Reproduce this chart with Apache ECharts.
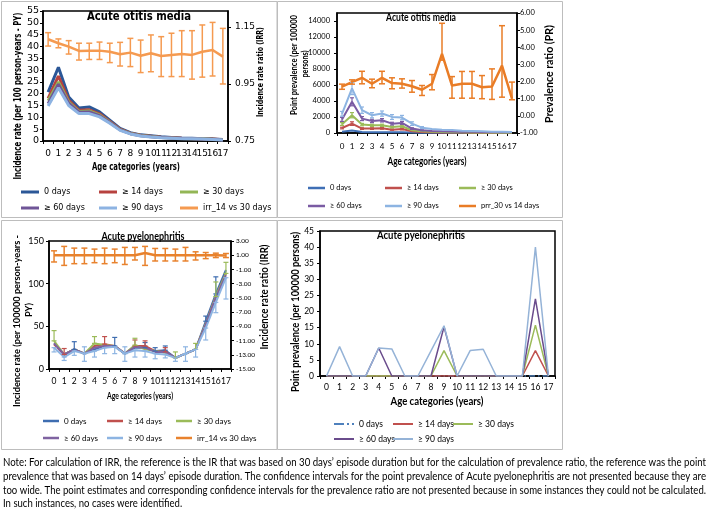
<!DOCTYPE html>
<html><head><meta charset="utf-8">
<script src="https://cdn.jsdelivr.net/npm/echarts@6/dist/echarts.min.js"></script>
<style>html,body{margin:0;padding:0;background:#fff}#c{width:709px;height:510px}</style>
</head><body><div id="c"></div>
<script>
const ages = ['0','1','2','3','4','5','6','7','8','9','10','11','12','13','14','15','16','17'];

// ---- Top-left: Acute otitis media, incidence rate (per 100 PY) ----
const tlBlue   = [20.7, 31.2, 18.6, 14.0, 14.4, 12.3, 8.8, 5.3, 3.5, 2.6, 2.2, 1.8, 1.5, 1.3, 1.2, 1.0, 0.9, 0.6];
const tlRed    = [18.0, 27.5, 17.2, 13.0, 13.2, 11.5, 8.3, 5.0, 3.3, 2.4, 2.0, 1.6, 1.4, 1.2, 1.1, 0.9, 0.8, 0.5];
const tlGreen  = [17.0, 25.0, 16.5, 12.5, 12.7, 11.0, 8.0, 4.8, 3.2, 2.3, 1.9, 1.5, 1.3, 1.1, 1.0, 0.9, 0.7, 0.5];
const tlPurple = [15.8, 24.0, 16.0, 12.2, 12.3, 10.7, 7.8, 4.7, 3.1, 2.2, 1.8, 1.5, 1.3, 1.1, 1.0, 0.8, 0.7, 0.4];
const tlLight  = [14.8, 22.5, 15.0, 11.6, 11.6, 10.2, 7.5, 4.5, 3.0, 2.1, 1.7, 1.4, 1.2, 1.0, 0.9, 0.8, 0.6, 0.4];
const tlIrr    = [1.107, 1.093, 1.081, 1.066, 1.067, 1.067, 1.063, 1.054, 1.060, 1.049, 1.058, 1.048, 1.052, 1.055, 1.052, 1.063, 1.069, 1.046];
const tlIrrLo  = [1.083, 1.077, 1.055, 1.034, 1.036, 1.036, 1.025, 1.013, 1.011, 0.990, 0.993, 0.976, 0.976, 0.976, 0.967, 0.974, 0.978, 0.950];
const tlIrrHi  = [1.130, 1.108, 1.102, 1.093, 1.093, 1.097, 1.093, 1.096, 1.110, 1.104, 1.122, 1.116, 1.128, 1.137, 1.137, 1.157, 1.166, 1.145];

// ---- Top-right: Acute otitis media, point prevalence (per 100000) ----
const trBlue   = [170, 300, 120, 90, 100, 80, 80, 50, 40, 30, 30, 25, 20, 20, 15, 15, 15, 10];
const trRed    = [620, 1170, 550, 550, 590, 420, 500, 210, 120, 90, 70, 60, 50, 40, 35, 30, 30, 25];
const trGreen  = [1100, 2220, 1050, 960, 960, 750, 840, 340, 210, 150, 120, 100, 80, 70, 60, 50, 45, 40];
const trPurple = [1700, 3900, 1800, 1510, 1590, 1170, 1260, 550, 340, 250, 220, 200, 170, 150, 130, 110, 100, 80];
const trLight  = [2400, 5580, 2850, 2220, 2430, 2010, 1930, 1170, 670, 500, 420, 380, 290, 250, 210, 170, 170, 130];
const trLightLo  = [2100, 4800, 2450, 1900, 2100, 1700, 1650, 950, 550, null, null, null, null, null, null, null, null, null];
const trLightHi  = [2700, 6300, 3250, 2550, 2750, 2300, 2200, 1400, 800, null, null, null, null, null, null, null, null, null];
const trPurpleLo = [1450, 3400, 1550, 1300, 1380, 1000, 1080, 450, 280, null, null, null, null, null, null, null, null, null];
const trPurpleHi = [1950, 4400, 2050, 1720, 1800, 1340, 1440, 650, 400, null, null, null, null, null, null, null, null, null];
const trGreenLo  = [950, 1900, 900, 820, 820, 630, 710, null, null, null, null, null, null, null, null, null, null, null];
const trGreenHi  = [1300, 2550, 1200, 1100, 1100, 870, 970, null, null, null, null, null, null, null, null, null, null, null];
const trRedLo    = [520, 950, 450, 450, 480, 340, 400, null, null, null, null, null, null, null, null, null, null, null];
const trRedHi    = [720, 1400, 650, 650, 700, 500, 600, null, null, null, null, null, null, null, null, null, null, null];
const trPrr    = [1.70, 1.97, 2.22, 1.87, 2.22, 1.91, 1.87, 1.73, 1.52, 1.87, 3.61, 1.77, 1.87, 1.87, 1.67, 1.71, 2.93, 1.00];
const trPrrLo  = [1.55, 1.85, 1.87, 1.64, 1.87, 1.58, 1.62, 1.38, 1.19, 1.52, 3.25, 1.03, 1.03, 1.03, 1.00, 0.96, 1.09, 0.94];
const trPrrHi  = [1.85, 2.10, 2.60, 2.14, 2.60, 2.22, 2.16, 2.06, 1.77, 2.41, 5.40, 2.29, 2.59, 2.59, 2.35, 2.74, 5.26, 1.97];

// ---- Bottom-left: Acute pyelonephritis, incidence rate (per 100000 PY) ----
const blBlue   = [30, 17, 23, 18, 23, 27, 27, 18, 25, 25, 21, 22, 13, 18, 23, 56, 88, 116];
const blRed    = [29, 17, 23, 18, 27, 29, 27, 18, 27, 27, 21, 20, 13, 18, 23, 53, 85, 112];
const blGreen  = [33, 17, 23, 18, 30, 28, 27, 18, 28, 23, 21, 19, 13, 18, 23, 53, 85, 112];
const blPurple = [30, 17, 23, 18, 25, 27, 27, 18, 26, 25, 20, 20, 13, 18, 23, 52, 84, 110];
const blLight  = [25, 14, 21, 18, 21, 25, 26, 18, 22, 21, 18, 17, 13, 18, 23, 48, 78, 107];
const blBlueHi  = [null, null, 32, null, null, null, 37, null, null, 31, 25, 27, null, null, null, 62, 108, null];
const blRedHi   = [null, 24, null, null, null, 38, null, null, 34, 33, null, 25, null, null, null, null, null, null];
const blGreenHi = [45, null, null, null, 38, null, null, null, 36, null, null, null, 20, null, 30, null, 102, 125];
const blLightLo = [20, 10, 16, 9, 14, 18, 18, 9, 14, 14, 12, 13, 9, 9, 14, 34, 66, 82];
const blLightHi = [null, null, null, 26, null, null, null, 26, null, null, null, null, null, 26, null, null, null, null];
const blIrr    = [1.0, 1.0, 1.0, 1.0, 1.0, 1.0, 1.0, 1.0, 1.0, 1.3, 1.0, 1.0, 1.0, 1.0, 1.0, 1.0, 1.0, 0.95];
const blIrrLo  = [0.05, -0.43, -0.19, -0.19, -0.05, -0.19, -0.05, -0.3, 0.33, -0.43, 0.19, 0.19, 0.19, 0.19, 0.33, 0.52, 0.67, 0.67];
const blIrrHi  = [1.62, 2.24, 2.0, 2.0, 1.86, 2.0, 1.86, 2.1, 2.1, 2.24, 1.95, 1.95, 1.86, 2.1, 1.48, 1.38, 1.29, 1.24];

// ---- Bottom-right: Acute pyelonephritis, point prevalence (per 100000) ----
const brBlue   = [0, 0, 0, 0, 0, 0, 0, 0, 0, 0, 0, 0, 0, 0, 0, 0, 0, 0];
const brRed    = [0, 0, 0, 0, 0, 0, 0, 0, 0, 0, 0, 0, 0, 0, 0, 0, 7.9, 0];
const brGreen  = [0, 0, 0, 0, 0, 0, 0, 0, 0, 7.9, 0, 0, 0, 0, 0, 0, 15.8, 0];
const brPurple = [0, 0, 0, 0, 8.7, 0, 0, 0, 0, 15.3, 0, 0, 0, 0, 0, 0, 23.9, 0];
const brLight  = [0, 9.1, 0, 0, 8.7, 8.4, 0, 0, 7.8, 15.6, 0, 7.9, 8.3, 0, 0, 0, 40, 0];

const noteLines = [
  'Note: For calculation of IRR, the reference is the IR that was based on 30 days\u2019 episode duration but for the calculation of prevalence ratio, the reference was the point',
  'prevalence that was based on 14 days\u2019 episode duration. The confidence intervals for the point prevalence of Acute pyelonephritis are not presented because they are',
  'too wide. The point estimates and corresponding confidence intervals for the prevalence ratio are not presented because in some instances they could not be calculated.',
  'In such instances, no cases were identified.'
];

const DV = 'DejaVu Sans';
const CB = 'Lato';

const mctx = document.createElement('canvas').getContext('2d');
function measure(text, f) {
  mctx.font = `${f.w || 'normal'} ${f.s}px "${f.f}"`;
  return mctx.measureText(text).width;
}
function gtext(text, x, y, f, len, o = {}) {
  const s = len ? len / measure(text, f) : (o.sx || 1);
  return { type: 'text', x, y, rotation: o.rot ? Math.PI / 2 : 0, scaleX: s, scaleY: o.sy || 1, z: 100,
    style: { text, fontSize: f.s, fontFamily: f.f, fontWeight: f.w || 'normal', fill: '#000',
      align: o.align || 'center', verticalAlign: 'middle' } };
}

function xa(gi, fam, size, margin) {
  return { type: 'category', gridIndex: gi, data: ages, boundaryGap: true,
    axisLine: { onZero: false, lineStyle: { color: '#000', width: 1.5 } },
    axisTick: { show: true, length: 3, lineStyle: { color: '#000' } },
    axisLabel: { interval: 0, fontFamily: fam, fontSize: size, color: '#000', margin },
    splitLine: { show: false } };
}
function ya(gi, pos, min, max, interval, fam, size, margin, dec, hideMax) {
  return { type: 'value', gridIndex: gi, position: pos, min, max, interval,
    axisLine: { show: true, lineStyle: { color: '#000', width: 1.5 } },
    axisTick: { show: true, length: 3, lineStyle: { color: '#000' } },
    axisLabel: { fontFamily: fam, fontSize: size, color: '#000', margin, showMaxLabel: !hideMax,
      formatter: v => dec ? v.toFixed(dec) : String(v) },
    splitLine: { show: false } };
}
function ln(name, xi, yi, data, color, w, extra) {
  return Object.assign({ type: 'line', name, xAxisIndex: xi, yAxisIndex: yi, data, symbol: 'none',
    lineStyle: { color, width: w }, itemStyle: { color }, z: 3, animation: false }, extra || {});
}
function eb(xi, yi, lo, hi, color, cap, lw) {
  const data = [];
  for (let i = 0; i < ages.length; i++) if (lo[i] != null && hi[i] != null) data.push([i, lo[i], hi[i]]);
  return { type: 'custom', xAxisIndex: xi, yAxisIndex: yi, silent: true, z: 4, data,
    encode: { x: 0, y: [1, 2] },
    renderItem: (p, api) => {
      const a = api.coord([api.value(0), api.value(1)]);
      const b = api.coord([api.value(0), api.value(2)]);
      const st = { stroke: color, lineWidth: lw };
      return { type: 'group', children: [
        { type: 'line', shape: { x1: a[0], y1: a[1], x2: b[0], y2: b[1] }, style: st },
        { type: 'line', shape: { x1: a[0] - cap, y1: a[1], x2: a[0] + cap, y2: a[1] }, style: st },
        { type: 'line', shape: { x1: b[0] - cap, y1: b[1], x2: b[0] + cap, y2: b[1] }, style: st }
      ] };
    } };
}
function lg(names, left, top, gap, fam, size, iw, ih) {
  return { show: true, orient: 'vertical', left, top, itemGap: gap, itemWidth: iw, itemHeight: ih, padding: 0,
    icon: 'rect', selectedMode: false, data: names, formatter: n => n.split('|')[1],
    textStyle: { fontFamily: fam, fontSize: size, color: '#000', lineHeight: 10 } };
}

const C = {
  tl: { b: '#2B5797', r: '#B7423F', g: '#93B656', p: '#6F5597', l: '#8DB3E2', o: '#F59A50' },
  tr: { b: '#3F6FB5', r: '#C0504D', g: '#9BBB59', p: '#7A5BA3', l: '#8DB4E2', o: '#E97C26' },
  bl: { b: '#3E6DB0', r: '#C0504D', g: '#9BBB59', p: '#7F63A1', l: '#8DB4E2', o: '#E8822D' },
  br: { b: '#4F81BD', r: '#C0504D', g: '#9BBB59', p: '#6A4C8C', l: '#95B3D7' }
};

const series = [
  // top-left
  ln('tl|0 days', 0, 0, tlBlue, C.tl.b, 3),
  ln('tl|\u2265 14 days', 0, 0, tlRed, C.tl.r, 3),
  ln('tl|\u2265 30 days', 0, 0, tlGreen, C.tl.g, 3),
  ln('tl|\u2265 60 days', 0, 0, tlPurple, C.tl.p, 3),
  ln('tl|\u2265 90 days', 0, 0, tlLight, C.tl.l, 3),
  ln('tl|irr_14 vs 30 days', 0, 1, tlIrr, C.tl.o, 2.5),
  eb(0, 1, tlIrrLo, tlIrrHi, C.tl.o, 3, 1.5),
  // top-right
  ln('tr|0 days', 1, 2, trBlue, C.tr.b, 2),
  ln('tr|\u2265 14 days', 1, 2, trRed, C.tr.r, 2),
  ln('tr|\u2265 30 days', 1, 2, trGreen, C.tr.g, 2),
  ln('tr|\u2265 60 days', 1, 2, trPurple, C.tr.p, 2),
  ln('tr|\u2265 90 days', 1, 2, trLight, C.tr.l, 2),
  eb(1, 2, trRedLo, trRedHi, C.tr.r, 2, 1.2),
  eb(1, 2, trGreenLo, trGreenHi, C.tr.g, 2, 1.2),
  eb(1, 2, trPurpleLo, trPurpleHi, C.tr.p, 2, 1.2),
  eb(1, 2, trLightLo, trLightHi, C.tr.l, 2, 1.2),
  ln('tr|prr_30 vs 14 days', 1, 3, trPrr, C.tr.o, 2.5),
  eb(1, 3, trPrrLo, trPrrHi, C.tr.o, 3, 1.5),
  // bottom-left
  ln('bl|0 days', 2, 4, blBlue, C.bl.b, 2),
  ln('bl|\u2265 14 days', 2, 4, blRed, C.bl.r, 2),
  ln('bl|\u2265 30 days', 2, 4, blGreen, C.bl.g, 2),
  ln('bl|\u2265 60 days', 2, 4, blPurple, C.bl.p, 2),
  ln('bl|\u2265 90 days', 2, 4, blLight, C.bl.l, 2),
  eb(2, 4, blBlue, blBlueHi, C.bl.b, 2.5, 1.2),
  eb(2, 4, blRed, blRedHi, C.bl.r, 2.5, 1.2),
  eb(2, 4, blGreen, blGreenHi, C.bl.g, 2.5, 1.2),
  eb(2, 4, blLightLo, blLight, C.bl.l, 2.5, 1.2),
  eb(2, 4, blLight, blLightHi, C.bl.l, 2.5, 1.2),
  ln('bl|irr_14 vs 30 days', 2, 5, blIrr, C.bl.o, 2.5),
  eb(2, 5, blIrrLo, blIrrHi, C.bl.o, 3, 1.5),
  // bottom-right
  ln('br|0 days', 3, 6, brBlue, C.br.b, 1.5, { lineStyle: { color: C.br.b, width: 1.5, type: [6, 3, 1.5, 3] } }),
  ln('br|\u2265 14 days', 3, 6, brRed, C.br.r, 1.5),
  ln('br|\u2265 30 days', 3, 6, brGreen, C.br.g, 1.5),
  ln('br|\u2265 60 days', 3, 6, brPurple, C.br.p, 1.5),
  ln('br|\u2265 90 days', 3, 6, brLight, C.br.l, 1.5)
];

const fDVb = (s) => ({ f: DV, s, w: 'bold' });
const fCBb = (s) => ({ f: CB, s, w: 'bold' });
const noteF = { f: CB, s: 11.5 };
const noteScale = 703 / measure(noteLines[2], noteF);

const graphics = [
  { type: 'rect', shape: { x: 1.5, y: 1.5, width: 275.5, height: 216 }, style: { fill: null, stroke: '#bdbdbd', lineWidth: 1 }, z: 1 },
  { type: 'rect', shape: { x: 277.5, y: 1.5, width: 285, height: 216 }, style: { fill: null, stroke: '#bdbdbd', lineWidth: 1 }, z: 1 },
  { type: 'rect', shape: { x: 1.5, y: 220.5, width: 275.5, height: 229 }, style: { fill: null, stroke: '#bdbdbd', lineWidth: 1 }, z: 1 },
  { type: 'rect', shape: { x: 277.5, y: 220.5, width: 285, height: 229 }, style: { fill: null, stroke: '#bdbdbd', lineWidth: 1 }, z: 1 },
  // top-left texts
  gtext('Acute otitis media', 139, 17, fDVb(13), 104),
  gtext('Incidence rate (per 100 person-years - PY)', 18, 96, fDVb(10), 167, { rot: true }),
  gtext('Incidence rate ratio (IRR)', 260.5, 72, fDVb(9.5), 90, { rot: true }),
  gtext('Age categories (years)', 136, 167, fDVb(10), 88),
  // top-right texts
  gtext('Acute otitis media', 421, 17, fCBb(11), 70),
  gtext('Point prevalence (per 100000', 294, 65, fCBb(10), 100, { rot: true }),
  gtext('persons)', 305, 64, fCBb(10), 27, { rot: true }),
  gtext('Prevalence ratio (PR)', 549, 74, fCBb(11), 98, { rot: true }),
  gtext('Age categories (years)', 427, 162, fCBb(10.5), 79),
  // bottom-left texts
  gtext('Acute pyelonephritis', 143, 236, fCBb(11), 83),
  gtext('Incidence rate (per 100000 person-years -', 17, 321, fCBb(10), 172, { rot: true }),
  gtext('PY)', 28.5, 310, fCBb(10), 14, { rot: true }),
  gtext('Incidence rate ratio (IRR)', 264, 297, fCBb(11), 105, { rot: true }),
  gtext('Age categories (years)', 140, 396, fCBb(10), 66),
  // bottom-right texts
  gtext('Acute pyelonephritis', 421, 235, fCBb(11), 88),
  gtext('Point prevalence (per 100000 persons)', 295, 312, fCBb(11), 160, { rot: true }),
  gtext('Age categories (years)', 437, 401, fCBb(11), 93)
];
const noteY = [462, 476, 490, 503];
noteLines.forEach((t, i) => {
  const len = i < 3 ? 703 : null;
  graphics.push(gtext(t, 3, noteY[i], noteF, len, { align: 'left', sx: noteScale }));
});

const dashDot = 'path://M0,0h10v2h-10z M13,0h2v2h-2z M18,0h2v2h-2z';

const option = {
  animation: false,
  backgroundColor: '#fff',
  textStyle: { fontFamily: CB },
  grid: [
    { left: 43, top: 11, width: 185, height: 130, show: true, borderColor: '#000', borderWidth: 1.5, outerBoundsMode: 'none' },
    { left: 337, top: 13, width: 180, height: 120, show: true, borderColor: '#000', borderWidth: 1.5, outerBoundsMode: 'none' },
    { left: 49, top: 241, width: 182, height: 128, show: true, borderColor: '#000', borderWidth: 1.5, outerBoundsMode: 'none' },
    { left: 320, top: 231, width: 235, height: 145, show: true, borderColor: '#000', borderWidth: 1.5, outerBoundsMode: 'none' }
  ],
  xAxis: [
    xa(0, DV, 9, 8.5),
    xa(1, CB, 8, 9),
    xa(2, CB, 8.5, 7.5),
    xa(3, CB, 8.5, 7)
  ],
  yAxis: [
    ya(0, 'left', 0, 55, 5, DV, 9.5, 4, 0, false),
    ya(0, 'right', 0.75, 1.206, 0.2, DV, 9, 7, 2, true),
    ya(1, 'left', 0, 15000, 2000, CB, 7.5, 7, 0, true),
    ya(1, 'right', -1, 6, 1, CB, 7.5, 3, 2, false),
    ya(2, 'left', 0, 150, 50, CB, 9, 5, 0, false),
    ya(2, 'right', -15, 3, 2, CB, 6.5, 5, 2, false),
    ya(3, 'left', 0, 45, 5, CB, 8.5, 6, 0, false)
  ],
  legend: [
    lg(['tl|0 days', 'tl|\u2265 60 days'], 21, 187, 6, DV, 8, 18, 3),
    lg(['tl|\u2265 14 days', 'tl|\u2265 90 days'], 99, 187, 6, DV, 8, 18, 3),
    lg(['tl|\u2265 30 days', 'tl|irr_14 vs 30 days'], 180, 187, 6, DV, 8, 18, 3),
    lg(['tr|0 days', 'tr|\u2265 60 days'], 308, 183, 8, CB, 7.5, 17, 2.5),
    lg(['tr|\u2265 14 days', 'tr|\u2265 90 days'], 385, 183, 8, CB, 7.5, 17, 2.5),
    lg(['tr|\u2265 30 days', 'tr|prr_30 vs 14 days'], 459, 183, 8, CB, 7.5, 17, 2.5),
    lg(['bl|0 days', 'bl|\u2265 60 days'], 43, 416, 7, CB, 8, 16, 2.5),
    lg(['bl|\u2265 14 days', 'bl|\u2265 90 days'], 107, 416, 7, CB, 8, 16, 2.5),
    lg(['bl|\u2265 30 days', 'bl|irr_14 vs 30 days'], 176, 416, 7, CB, 8, 16, 2.5),
    lg([{ name: 'br|0 days', icon: dashDot }, 'br|\u2265 60 days'], 334, 419, 5, CB, 8.5, 20, 2),
    lg(['br|\u2265 14 days', 'br|\u2265 90 days'], 393, 419, 5, CB, 8.5, 20, 2),
    lg(['br|\u2265 30 days'], 453, 419, 5, CB, 8.5, 20, 2)
  ],
  series,
  graphic: { elements: graphics }
};

const chart = echarts.init(document.getElementById('c'), null, { renderer: 'canvas', width: 709, height: 510 });
chart.setOption(option);
</script></body></html>
